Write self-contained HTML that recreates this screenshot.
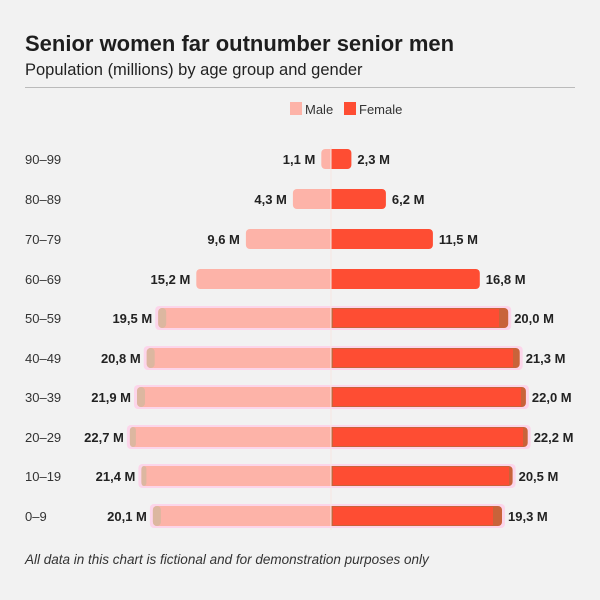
<!DOCTYPE html>
<html><head><meta charset="utf-8"><style>
body{margin:0;background:#f2f2f2;}
svg{display:block;font-family:"Liberation Sans",sans-serif;}
.a{font-size:13px;fill:#333;}
.v{font-size:13px;font-weight:bold;fill:#222;}
</style></head><body>
<svg width="600" height="600" viewBox="0 0 600 600">
<rect width="600" height="600" fill="#f2f2f2"/>
<text x="25" y="51" font-size="22" font-weight="bold" fill="#1e1e1e">Senior women far outnumber senior men</text>
<text x="25" y="75" font-size="16.5" fill="#222">Population (millions) by age group and gender</text>
<line x1="25" y1="87.5" x2="575" y2="87.5" stroke="#bbb" stroke-width="1"/>
<rect x="290" y="102" width="12" height="13" fill="#fdb3a8"/><text x="305" y="114" font-size="13" fill="#333">Male</text>
<rect x="344" y="102" width="12" height="13" fill="#fe4d33"/><text x="359" y="114" font-size="13" fill="#333">Female</text>

<!-- highlights -->
<g fill="#fcd5ea">
<rect x="155.2" y="306" width="356" height="24" rx="4"/>
<rect x="143.7" y="346" width="379" height="24" rx="4"/>
<rect x="134" y="385" width="394.9" height="24" rx="4"/>
<rect x="126.9" y="425" width="403.8" height="24" rx="4"/>
<rect x="138.4" y="464" width="377.2" height="24" rx="4"/>
<rect x="149.9" y="504" width="355.1" height="24" rx="4"/>
</g>

<g fill="#fdb3a8">
<rect x="321.3" y="149" width="9.7" height="20" rx="4"/><rect x="326" y="149" width="5" height="20"/>
<rect x="292.9" y="189" width="38.1" height="20" rx="4"/><rect x="326" y="189" width="5" height="20"/>
<rect x="245.9" y="229" width="85.1" height="20" rx="4"/><rect x="326" y="229" width="5" height="20"/>
<rect x="196.3" y="269" width="134.7" height="20" rx="4"/><rect x="326" y="269" width="5" height="20"/>
<rect x="158.2" y="308" width="172.8" height="20" rx="4"/><rect x="326" y="308" width="5" height="20"/>
<rect x="146.7" y="348" width="184.3" height="20" rx="4"/><rect x="326" y="348" width="5" height="20"/>
<rect x="137" y="387" width="194" height="20" rx="4"/><rect x="326" y="387" width="5" height="20"/>
<rect x="129.9" y="427" width="201.1" height="20" rx="4"/><rect x="326" y="427" width="5" height="20"/>
<rect x="141.4" y="466" width="189.6" height="20" rx="4"/><rect x="326" y="466" width="5" height="20"/>
<rect x="152.9" y="506" width="178.1" height="20" rx="4"/><rect x="326" y="506" width="5" height="20"/>
</g>
<g fill="#dcb7a0">
<rect x="158.2" y="308" width="8" height="20" rx="4"/>
<rect x="146.7" y="348" width="8" height="20" rx="4"/>
<rect x="137" y="387" width="8" height="20" rx="4"/>
<rect x="129.9" y="427" width="6" height="20" rx="3"/>
<rect x="141.4" y="466" width="5" height="20" rx="3"/>
<rect x="152.9" y="506" width="8" height="20" rx="4"/>
</g>

<g fill="#fe4d33">
<rect x="331" y="149" width="20.4" height="20" rx="4"/><rect x="331" y="149" width="5" height="20"/>
<rect x="331" y="189" width="54.9" height="20" rx="4"/><rect x="331" y="189" width="5" height="20"/>
<rect x="331" y="229" width="101.9" height="20" rx="4"/><rect x="331" y="229" width="5" height="20"/>
<rect x="331" y="269" width="148.8" height="20" rx="4"/><rect x="331" y="269" width="5" height="20"/>
</g>
<g fill="#c8633a">
<rect x="331" y="308" width="177.2" height="20" rx="4"/><rect x="331" y="308" width="5" height="20"/>
<rect x="331" y="348" width="188.7" height="20" rx="4"/><rect x="331" y="348" width="5" height="20"/>
<rect x="331" y="387" width="194.9" height="20" rx="4"/><rect x="331" y="387" width="5" height="20"/>
<rect x="331" y="427" width="196.7" height="20" rx="4"/><rect x="331" y="427" width="5" height="20"/>
<rect x="331" y="466" width="181.6" height="20" rx="4"/><rect x="331" y="466" width="5" height="20"/>
<rect x="331" y="506" width="171" height="20" rx="4"/><rect x="331" y="506" width="5" height="20"/>
</g>
<g fill="#fe4d33">
<rect x="333" y="309" width="166" height="18"/>
<rect x="333" y="349" width="180" height="18"/>
<rect x="333" y="388" width="188" height="18"/>
<rect x="333" y="428" width="190" height="18"/>
<rect x="333" y="467" width="176" height="18"/>
<rect x="333" y="507" width="160" height="18"/>
</g>
<line x1="331" y1="145" x2="331" y2="530" stroke="#f7e6e2" stroke-width="1"/>

<g class="a">
<text x="25" y="164">90–99</text>
<text x="25" y="204">80–89</text>
<text x="25" y="244">70–79</text>
<text x="25" y="284">60–69</text>
<text x="25" y="323">50–59</text>
<text x="25" y="363">40–49</text>
<text x="25" y="402">30–39</text>
<text x="25" y="442">20–29</text>
<text x="25" y="481">10–19</text>
<text x="25" y="521">0–9</text>
</g>
<g class="v" text-anchor="end">
<text x="315.3" y="164">1,1 M</text>
<text x="286.9" y="204">4,3 M</text>
<text x="239.9" y="244">9,6 M</text>
<text x="190.3" y="284">15,2 M</text>
<text x="152.2" y="323">19,5 M</text>
<text x="140.7" y="363">20,8 M</text>
<text x="131" y="402">21,9 M</text>
<text x="123.9" y="442">22,7 M</text>
<text x="135.4" y="481">21,4 M</text>
<text x="146.9" y="521">20,1 M</text>
</g>
<g class="v">
<text x="357.4" y="164">2,3 M</text>
<text x="391.9" y="204">6,2 M</text>
<text x="438.9" y="244">11,5 M</text>
<text x="485.8" y="284">16,8 M</text>
<text x="514.2" y="323">20,0 M</text>
<text x="525.7" y="363">21,3 M</text>
<text x="531.9" y="402">22,0 M</text>
<text x="533.7" y="442">22,2 M</text>
<text x="518.6" y="481">20,5 M</text>
<text x="508" y="521">19,3 M</text>
</g>
<text x="25" y="564" font-size="13.5" font-style="italic" fill="#333">All data in this chart is fictional and for demonstration purposes only</text>
</svg>
</body></html>
